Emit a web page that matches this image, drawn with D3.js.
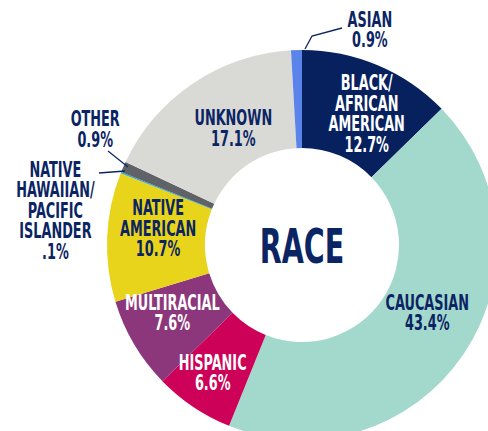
<!DOCTYPE html>
<html>
<head>
<meta charset="utf-8">
<script src="https://cdn.jsdelivr.net/npm/d3@7"></script>
<style>
  body{margin:0;background:#fff;}
  svg{display:block;}
  text{font-family:'Liberation Sans Narrow','DejaVu Sans Condensed','Liberation Sans',sans-serif;}
</style>
</head>
<body>
<div id="chart"></div>
<script>
// race breakdown, clockwise from 12 o'clock
const categories = ["Black/African American","Caucasian","Hispanic","Multiracial","Native American",
  "Native Hawaiian/Pacific Islander","Other","Unknown","Asian"];
const values = [12.7, 43.4, 6.6, 7.6, 10.7, 0.1, 0.9, 17.1, 0.9];
const nameLines = [["BLACK/","AFRICAN","AMERICAN"],["CAUCASIAN"],["HISPANIC"],["MULTIRACIAL"],
  ["NATIVE","AMERICAN"],["NATIVE","HAWAIIAN/","PACIFIC","ISLANDER"],["OTHER"],["UNKNOWN"],["ASIAN"]];
const valueLabels = ["12.7%","43.4%","6.6%","7.6%","10.7%",".1%","0.9%","17.1%","0.9%"];

let width = 488, height = 431,
    cx = 302, cy = 245,
    outerR = 195, innerR = 97,
    navy = "#0b2463",
    lineH = 20.5,
    sx = 0.68;

let colors = ["#07215f","#a3d8cc","#cd0157","#8c377c","#e8d41a","#29abe2","#5f6267","#d9d9d6","#5b84ea"];
let textColors = ["#fff",navy,"#fff","#fff",navy,navy,navy,navy,navy];
// label nudge from the slice centroid (layout only)
let nudge = [[8,3],[4,-14],[-8,6],[-4,-7],[2,-11],[-111,19],[-73,-58],[13,4],[72,-70]];
// leader lines, relative to centre
let leaders = {
  8: [[40,-217],[10,-209],[3,-196]],
  6: [[-194,-94],[-174,-78]],
  5: [[-203,-72],[-177,-74]]
};

let svg = d3.select("#chart").append("svg")
    .attr("width",width)
    .attr("height",height);

let g = svg.append("g")
    .attr("transform",`translate(${cx},${cy})`);

let pie = d3.pie().sort(null).value(d=>d).startAngle(0).endAngle(2*Math.PI);
let arc = d3.arc().innerRadius(innerR).outerRadius(outerR);
let arcs = pie(values);

g.selectAll(".slice")
    .data(arcs)
    .join("path")
    .attr("class","slice")
    .attr("d",arc)
    .attr("fill",(d,i)=>colors[i]);

// leader lines
Object.keys(leaders).forEach(k=>{
  g.append("path")
    .attr("d",d3.line()(leaders[k]))
    .attr("fill","none")
    .attr("stroke",navy)
    .attr("stroke-width",1.3);
});

// labels
let labels = g.selectAll(".label")
    .data(arcs)
    .join("g")
    .attr("class","label")
    .attr("transform",(d,i)=>{
      let c = arc.centroid(d);
      return `translate(${c[0]+nudge[i][0]},${c[1]+nudge[i][1]}) scale(${sx},1)`;
    });

labels.each(function(d,i){
  let lines = nameLines[i].concat([valueLabels[i]]);
  let y0 = -(lines.length-1)*lineH/2;
  d3.select(this).selectAll("text")
    .data(lines)
    .join("text")
    .attr("x",0)
    .attr("y",(t,j)=>y0+j*lineH+7.7)
    .attr("text-anchor","middle")
    .attr("font-size","21px")
    .attr("font-weight","bold")
    .attr("fill",textColors[i])
    .text(t=>t);
});

// centre title
g.append("text")
    .attr("transform","translate(0,17.5) scale(0.66,1)")
    .attr("text-anchor","middle")
    .attr("font-size","48px")
    .attr("font-weight","bold")
    .attr("fill",navy)
    .text("RACE");
</script>
</body>
</html>
